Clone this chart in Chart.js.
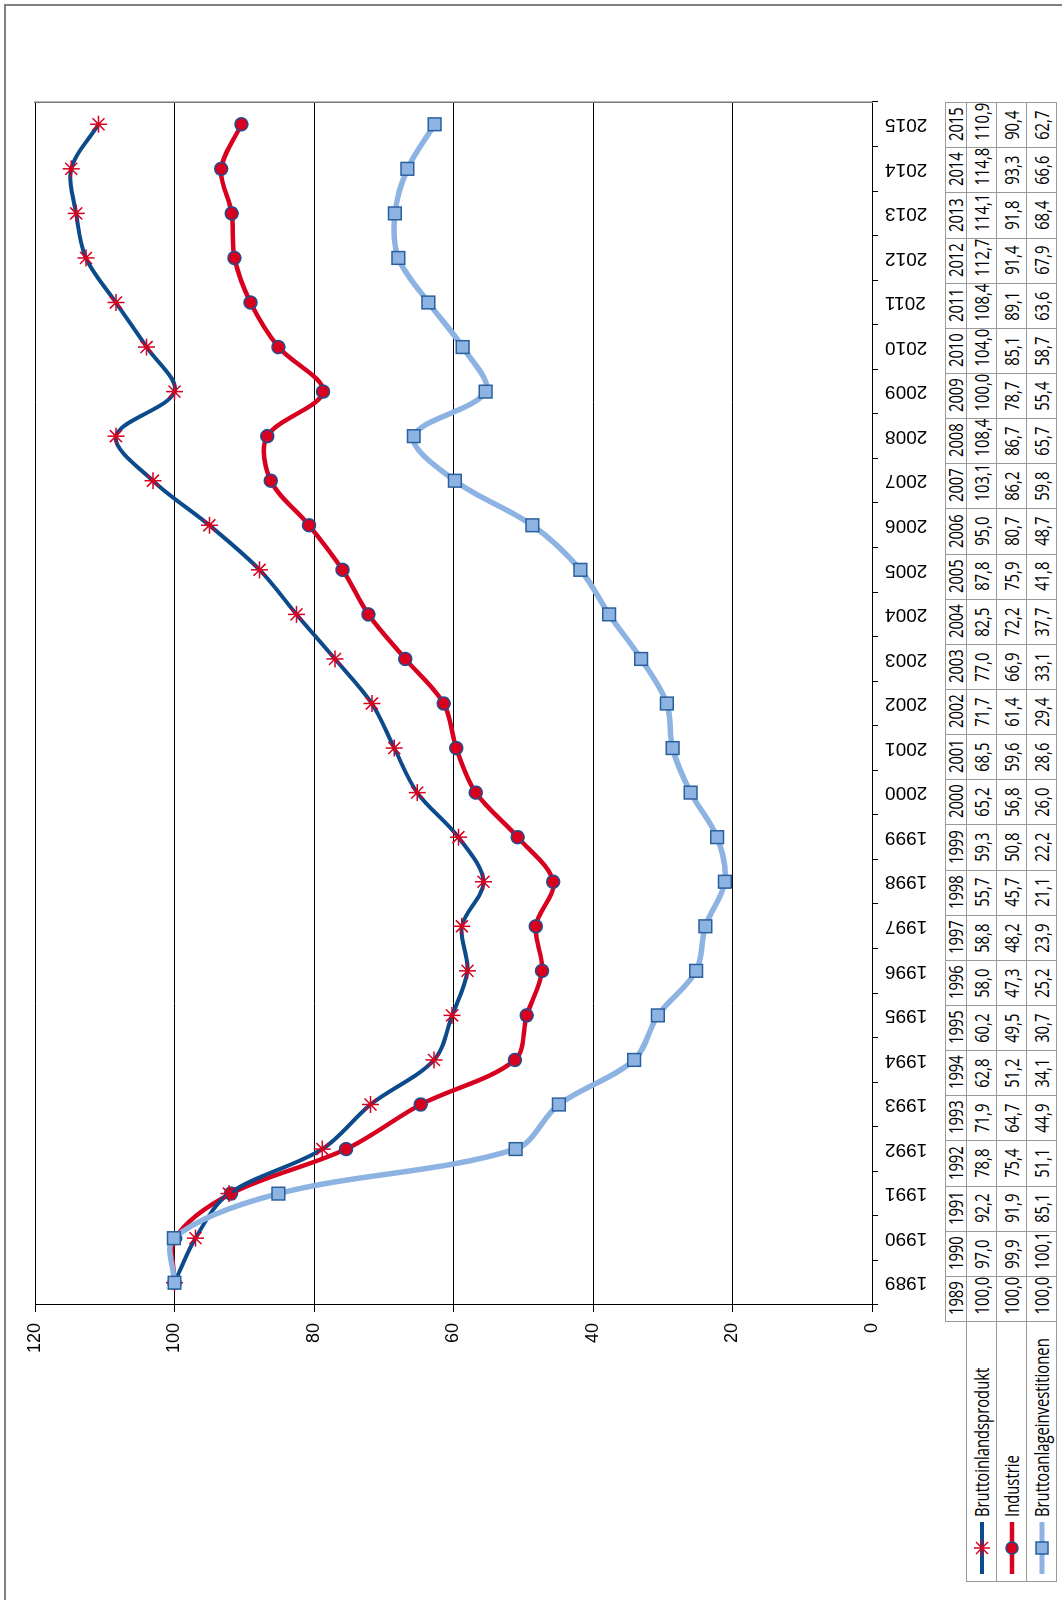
<!DOCTYPE html>
<html lang="de">
<head>
<meta charset="UTF-8" />
<title>Bruttoinlandsprodukt, Industrie, Bruttoanlageinvestitionen 1989-2015</title>
<script src="https://cdn.jsdelivr.net/npm/chart.js"></script>
<style>
  html, body { margin: 0; padding: 0; background: #fff; overflow: hidden; }
  body { width: 1062px; height: 1600px; position: relative; }
  /* the page is laid out landscape and turned a quarter to the left */
  #page {
    position: absolute; left: 0; top: 0; width: 1600px; height: 1062px;
    transform-origin: 0 0; transform: translate(0, 1600px) rotate(-90deg);
  }
  #frame {
    position: absolute; left: 0; top: 4px; width: 1594px; height: 1060px;
    border-top: 2px solid #808080; border-right: 2px solid #808080;
  }
  #chart { position: absolute; left: 0; top: 0; }
  #dataTable {
    position: absolute; left: 18px; top: 945px; width: 1479px;
    border-collapse: collapse; table-layout: fixed;
    font-family: "Open Sans", sans-serif; font-size: 20px; color: #000;
  }
  #dataTable td {
    border: 1.5px solid #9a9a9a; padding: 0; text-align: center;
    height: 29px; line-height: 1; overflow: hidden; white-space: nowrap;
  }
  #dataTable tr.years td { height: 20px; }
  #dataTable td.corner { border: none; }
  #dataTable td.name { text-align: left; position: relative; }
  .t { display: inline-block; transform: scaleX(0.74); }
  td.name .t { transform-origin: 0 50%; margin-left: 64px; }
  td.name svg { position: absolute; left: 7px; top: 1px; }
</style>
</head>
<body>
<div id="page">
  <div id="frame"></div>
  <canvas id="chart" width="1600" height="940"></canvas>
  <table id="dataTable"><colgroup></colgroup><tbody></tbody></table>
</div>

<script>
  // Werte aus der Tabelle (1989 = 100)
  const years = ["1989", "1990", "1991", "1992", "1993", "1994", "1995", "1996", "1997",
    "1998", "1999", "2000", "2001", "2002", "2003", "2004", "2005", "2006", "2007",
    "2008", "2009", "2010", "2011", "2012", "2013", "2014", "2015"];
  const bip = [100.0, 97.0, 92.2, 78.8, 71.9, 62.8, 60.2, 58.0, 58.8, 55.7, 59.3, 65.2,
    68.5, 71.7, 77.0, 82.5, 87.8, 95.0, 103.1, 108.4, 100.0, 104.0, 108.4, 112.7,
    114.1, 114.8, 110.9];
  const industrie = [100.0, 99.9, 91.9, 75.4, 64.7, 51.2, 49.5, 47.3, 48.2, 45.7, 50.8,
    56.8, 59.6, 61.4, 66.9, 72.2, 75.9, 80.7, 86.2, 86.7, 78.7, 85.1, 89.1, 91.4, 91.8,
    93.3, 90.4];
  const anlage = [100.0, 100.1, 85.1, 51.1, 44.9, 34.1, 30.7, 25.2, 23.9, 21.1, 22.2,
    26.0, 28.6, 29.4, 33.1, 37.7, 41.8, 48.7, 59.8, 65.7, 55.4, 58.7, 63.6, 67.9, 68.4,
    66.6, 62.7];
  const seriesNames = ["Bruttoinlandsprodukt", "Industrie", "Bruttoanlageinvestitionen"];
  const yTicks = [0, 20, 40, 60, 80, 100, 120];

  const blue = "#0b4a8b";
  const red = "#d7001e";
  const lightBlue = "#8db3e2";

  // legend swatches for the table row headers
  const swatches = [
    `<svg width="56" height="28"><line x1="0" y1="14" x2="52" y2="14" stroke="${blue}" stroke-width="4"/>
      <g stroke="${red}" stroke-width="1.5"><line x1="20" y1="8" x2="32" y2="20"/><line x1="20" y1="20" x2="32" y2="8"/>
      <line x1="26" y1="6" x2="26" y2="22"/><line x1="18" y1="14" x2="34" y2="14"/></g></svg>`,
    `<svg width="56" height="28"><line x1="0" y1="14" x2="52" y2="14" stroke="${red}" stroke-width="4.5"/>
      <circle cx="26" cy="14" r="6" fill="${red}" stroke="#1f4f8f" stroke-width="1.5"/></svg>`,
    `<svg width="56" height="28"><line x1="0" y1="14" x2="52" y2="14" stroke="${lightBlue}" stroke-width="5"/>
      <rect x="20" y="8" width="12" height="12" fill="${lightBlue}" stroke="#2a5f9e" stroke-width="1.5"/></svg>`
  ];

  function fmt(v) {
    return v.toFixed(1).replace(".", ",");
  }

  // Build the data table
  function buildTable() {
    const colgroup = document.querySelector("#dataTable colgroup");
    let cols = '<col style="width:260px">';
    years.forEach(() => { cols += '<col style="width:45.15px">'; });
    colgroup.innerHTML = cols;

    const tbody = document.querySelector("#dataTable tbody");
    let html = '<tr class="years"><td class="corner"></td>';
    years.forEach((y) => { html += `<td><span class="t">${y}</span></td>`; });
    html += "</tr>";
    [bip, industrie, anlage].forEach((values, i) => {
      html += `<tr><td class="name">${swatches[i]}<span class="t">${seriesNames[i]}</span></td>`;
      values.forEach((v) => { html += `<td><span class="t">${fmt(v)}</span></td>`; });
      html += "</tr>";
    });
    tbody.innerHTML = html;
  }

  function createChart() {
    const ctx = document.getElementById("chart").getContext("2d");
    new Chart(ctx, {
      type: "line",
      data: {
        labels: years,
        datasets: [
          {
            label: seriesNames[0],
            data: bip,
            order: 1,
            borderColor: blue,
            borderWidth: 4,
            tension: 0.33,
            pointStyle: "star",
            pointRadius: 8.5,
            pointBorderColor: red,
            pointBackgroundColor: red,
            pointBorderWidth: 1.5,
            yAxisID: "y",
          },
          {
            label: seriesNames[1],
            data: industrie,
            order: 2,
            borderColor: red,
            borderWidth: 4.5,
            tension: 0.33,
            pointStyle: "circle",
            pointRadius: 6.5,
            pointBackgroundColor: red,
            pointBorderColor: "#1f4f8f",
            pointBorderWidth: 1.5,
            yAxisID: "y",
          },
          {
            label: seriesNames[2],
            data: anlage,
            order: 0,
            borderColor: lightBlue,
            borderWidth: 5.5,
            tension: 0.33,
            pointStyle: "rect",
            pointRadius: 9,
            pointBackgroundColor: lightBlue,
            pointBorderColor: "#2a5f9e",
            pointBorderWidth: 1.5,
            yAxisID: "y",
          },
        ],
      },
      options: {
        responsive: false,
        animation: false,
        layout: { padding: { left: 235, right: 102, top: 35, bottom: 0 } },
        plugins: { legend: { display: false }, tooltip: { enabled: false } },
        scales: {
          x: {
            offset: true,
            afterFit: (s) => { s.height = 68; },
            grid: { offset: true, drawOnChartArea: false, drawTicks: true, tickLength: 6, color: "#000" },
            border: { display: true, color: "#000", width: 1 },
            ticks: {
              autoSkip: false, minRotation: 90, maxRotation: 90, padding: 7,
              color: "#000", font: { family: "Liberation Sans", size: 19 },
            },
          },
          y: {
            min: yTicks[0],
            max: yTicks[yTicks.length - 1],
            afterFit: (s) => { s.width = 60; },
            afterBuildTicks: (s) => { s.ticks = yTicks.map((v) => ({ value: v })); },
            grid: { color: "#000", lineWidth: 1, drawTicks: true, tickLength: 7 },
            border: { display: true, color: "#000", width: 1 },
            ticks: { padding: 11, color: "#000", font: { family: "Liberation Sans", size: 18 } },
          },
          yR: {
            position: "right",
            min: 0,
            max: 120,
            afterFit: (s) => { s.width = 0; },
            grid: { drawOnChartArea: false, drawTicks: false },
            border: { display: true, color: "#777", width: 1.5 },
            ticks: { display: false },
          },
        },
      },
    });
  }

  buildTable();
  createChart();
</script>
</body>
</html>
